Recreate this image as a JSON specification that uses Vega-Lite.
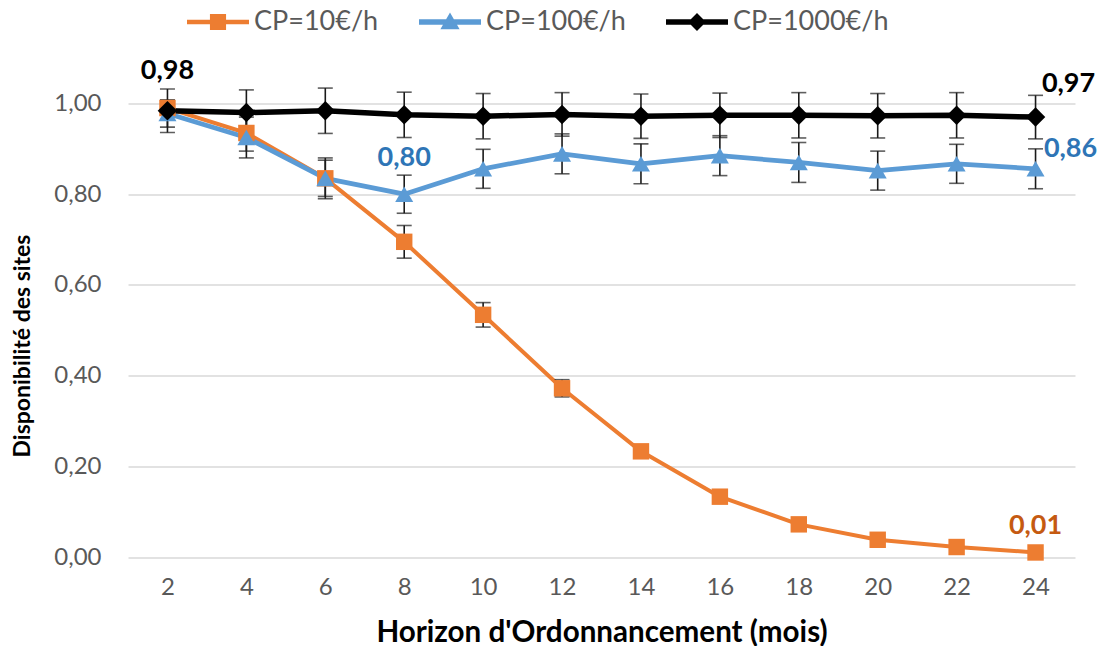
{
  "$schema": "https://vega.github.io/schema/vega-lite/v6.json",
  "width": 947,
  "height": 453.5,
  "autosize": "none",
  "padding": {"left": 128, "top": 103.5, "right": 29, "bottom": 89},
  "background": "white",
  "config": {"view": {"stroke": null}, "font": "Lato"},
  "datasets": {
    "main": [
      {"horizon": 2, "series": "CP=10€/h", "value": 0.99, "err": 0.01},
      {"horizon": 4, "series": "CP=10€/h", "value": 0.935, "err": 0.04},
      {"horizon": 6, "series": "CP=10€/h", "value": 0.835, "err": 0.04},
      {"horizon": 8, "series": "CP=10€/h", "value": 0.695, "err": 0.036},
      {"horizon": 10, "series": "CP=10€/h", "value": 0.534, "err": 0.027},
      {"horizon": 12, "series": "CP=10€/h", "value": 0.372, "err": 0.019},
      {"horizon": 14, "series": "CP=10€/h", "value": 0.233, "err": 0.006},
      {"horizon": 16, "series": "CP=10€/h", "value": 0.133, "err": 0.004},
      {"horizon": 18, "series": "CP=10€/h", "value": 0.072, "err": 0.003},
      {"horizon": 20, "series": "CP=10€/h", "value": 0.038, "err": 0.002},
      {"horizon": 22, "series": "CP=10€/h", "value": 0.022, "err": 0.001},
      {"horizon": 24, "series": "CP=10€/h", "value": 0.01, "err": 0.001},
      {"horizon": 2, "series": "CP=100€/h", "value": 0.978, "err": 0.03},
      {"horizon": 4, "series": "CP=100€/h", "value": 0.925, "err": 0.045},
      {"horizon": 6, "series": "CP=100€/h", "value": 0.835, "err": 0.045},
      {"horizon": 8, "series": "CP=100€/h", "value": 0.8, "err": 0.042},
      {"horizon": 10, "series": "CP=100€/h", "value": 0.856, "err": 0.043},
      {"horizon": 12, "series": "CP=100€/h", "value": 0.889, "err": 0.044},
      {"horizon": 14, "series": "CP=100€/h", "value": 0.867, "err": 0.044},
      {"horizon": 16, "series": "CP=100€/h", "value": 0.885, "err": 0.044},
      {"horizon": 18, "series": "CP=100€/h", "value": 0.87, "err": 0.044},
      {"horizon": 20, "series": "CP=100€/h", "value": 0.852, "err": 0.043},
      {"horizon": 22, "series": "CP=100€/h", "value": 0.867, "err": 0.043},
      {"horizon": 24, "series": "CP=100€/h", "value": 0.856, "err": 0.044},
      {"horizon": 2, "series": "CP=1000€/h", "value": 0.984, "err": 0.048},
      {"horizon": 4, "series": "CP=1000€/h", "value": 0.98, "err": 0.05},
      {"horizon": 6, "series": "CP=1000€/h", "value": 0.984, "err": 0.05},
      {"horizon": 8, "series": "CP=1000€/h", "value": 0.975, "err": 0.05},
      {"horizon": 10, "series": "CP=1000€/h", "value": 0.972, "err": 0.05},
      {"horizon": 12, "series": "CP=1000€/h", "value": 0.976, "err": 0.048},
      {"horizon": 14, "series": "CP=1000€/h", "value": 0.972, "err": 0.049},
      {"horizon": 16, "series": "CP=1000€/h", "value": 0.974, "err": 0.049},
      {"horizon": 18, "series": "CP=1000€/h", "value": 0.974, "err": 0.05},
      {"horizon": 20, "series": "CP=1000€/h", "value": 0.973, "err": 0.049},
      {"horizon": 22, "series": "CP=1000€/h", "value": 0.974, "err": 0.05},
      {"horizon": 24, "series": "CP=1000€/h", "value": 0.97, "err": 0.048}
    ]
  },
  "encoding": {
    "x": {
      "field": "horizon", "type": "quantitative",
      "scale": {"domain": [1, 25], "nice": false, "zero": false},
      "title": "Horizon d'Ordonnancement (mois)",
      "axis": {
        "values": [2, 4, 6, 8, 10, 12, 14, 16, 18, 20, 22, 24],
        "grid": false, "ticks": false, "domain": false,
        "labelFont": "Lato", "labelFontSize": 24, "labelColor": "#595959", "labelPadding": 18,
        "titleFont": "Lato", "titleFontSize": 29.6, "titleFontWeight": "bold", "titleColor": "#000000", "titlePadding": 19
      }
    },
    "y": {
      "field": "value", "type": "quantitative",
      "scale": {"domain": [0, 1], "nice": false},
      "title": "Disponibilité des sites",
      "axis": {
        "values": [0, 0.2, 0.4, 0.6, 0.8, 1],
        "labelExpr": "replace(format(datum.value, '.2f'), '.', ',')",
        "grid": true, "gridColor": "#D9D9D9", "gridWidth": 1.5,
        "ticks": false, "domain": false,
        "labelFont": "Lato", "labelFontSize": 24, "labelColor": "#595959", "labelPadding": 27,
        "titleFont": "Lato", "titleFontSize": 23, "titleFontWeight": "bold", "titleColor": "#000000", "titlePadding": 19,
        "titleY": 242
      }
    }
  },
  "resolve": {"scale": {"color": "independent", "shape": "independent", "size": "independent"}},
  "layer": [
    {
      "data": {"name": "main"},
      "mark": {"type": "line", "strokeJoin": "round"},
      "encoding": {
        "color": {
          "field": "series", "type": "nominal",
          "scale": {"domain": ["CP=10€/h", "CP=100€/h", "CP=1000€/h"], "range": ["#ED7D31", "#5B9BD5", "#000000"]},
          "legend": null
        },
        "strokeWidth": {
          "field": "series", "type": "ordinal",
          "scale": {"domain": ["CP=10€/h", "CP=100€/h", "CP=1000€/h"], "range": [4, 5.5, 5.5]},
          "legend": null
        }
      }
    },
    {
      "data": {"name": "main"},
      "mark": {"type": "errorbar", "color": "#1a1a1a", "thickness": 1.6, "ticks": {"size": 15, "thickness": 1.6, "color": "#1a1a1a"}},
      "encoding": {
        "yError": {"field": "err"}
      }
    },
    {
      "data": {"name": "main"},
      "mark": {"type": "point", "filled": true, "opacity": 1},
      "encoding": {
        "color": {
          "field": "series", "type": "nominal",
          "scale": {"domain": ["CP=10€/h", "CP=100€/h", "CP=1000€/h"], "range": ["#ED7D31", "#5B9BD5", "#000000"]},
          "legend": null
        },
        "shape": {
          "field": "series", "type": "nominal",
          "scale": {"domain": ["CP=10€/h", "CP=100€/h", "CP=1000€/h"], "range": ["square", "triangle-up", "diamond"]},
          "legend": null
        },
        "size": {
          "field": "series", "type": "ordinal",
          "scale": {"domain": ["CP=10€/h", "CP=100€/h", "CP=1000€/h"], "range": [270, 380, 340]},
          "legend": null
        }
      }
    },
    {
      "data": {"values": []},
      "mark": {"type": "point", "filled": true, "opacity": 1},
      "encoding": {
        "color": {
          "field": "series", "type": "nominal",
          "scale": {"domain": ["CP=10€/h", "CP=100€/h", "CP=1000€/h"], "range": ["#ED7D31", "#5B9BD5", "#000000"]},
          "legend": {
            "orient": "none", "legendX": 59, "legendY": -112.5, "direction": "horizontal",
            "title": null, "padding": 0, "symbolSize": 3844, "symbolStrokeWidth": 0, "symbolOpacity": 1,
            "labelFont": "Lato", "labelFontSize": 27, "labelColor": "#595959", "labelOffset": 5,
            "columnPadding": 40
          }
        },
        "shape": {
          "field": "series", "type": "nominal",
          "scale": {
            "domain": ["CP=10€/h", "CP=100€/h", "CP=1000€/h"],
            "range": [
              "M-1,-0.07H1V0.07H-1Z M-0.26,-0.26H0.26V0.26H-0.26Z",
              "M-1,-0.085H1V0.085H-1Z M0,-0.31L0.31,0.23H-0.31Z",
              "M-1,-0.085H1V0.085H-1Z M0,-0.29L0.29,0L0,0.29L-0.29,0Z"
            ]
          }
        }
      }
    },
    {
      "data": {"values": [{"horizon": 2, "value": 0.984, "label": "0,98"}]},
      "mark": {"type": "text", "font": "Lato", "fontSize": 27, "fontWeight": "bold", "color": "#000000", "align": "center", "baseline": "middle", "dy": -40},
      "encoding": {"text": {"field": "label"}}
    },
    {
      "data": {"values": [{"horizon": 8, "value": 0.8, "label": "0,80"}]},
      "mark": {"type": "text", "font": "Lato", "fontSize": 27, "fontWeight": "bold", "color": "#2E75B6", "align": "center", "baseline": "middle", "dy": -36},
      "encoding": {"text": {"field": "label"}}
    },
    {
      "data": {"values": [{"horizon": 24, "value": 0.97, "label": "0,97"}]},
      "mark": {"type": "text", "font": "Lato", "fontSize": 27, "fontWeight": "bold", "color": "#000000", "align": "center", "baseline": "middle", "dx": 33, "dy": -33},
      "encoding": {"text": {"field": "label"}}
    },
    {
      "data": {"values": [{"horizon": 24, "value": 0.856, "label": "0,86"}]},
      "mark": {"type": "text", "font": "Lato", "fontSize": 27, "fontWeight": "bold", "color": "#2E75B6", "align": "center", "baseline": "middle", "dx": 35, "dy": -20},
      "encoding": {"text": {"field": "label"}}
    },
    {
      "data": {"values": [{"horizon": 24, "value": 0.01, "label": "0,01"}]},
      "mark": {"type": "text", "font": "Lato", "fontSize": 27, "fontWeight": "bold", "color": "#C55A11", "align": "center", "baseline": "middle", "dy": -26},
      "encoding": {"text": {"field": "label"}}
    }
  ]
}
